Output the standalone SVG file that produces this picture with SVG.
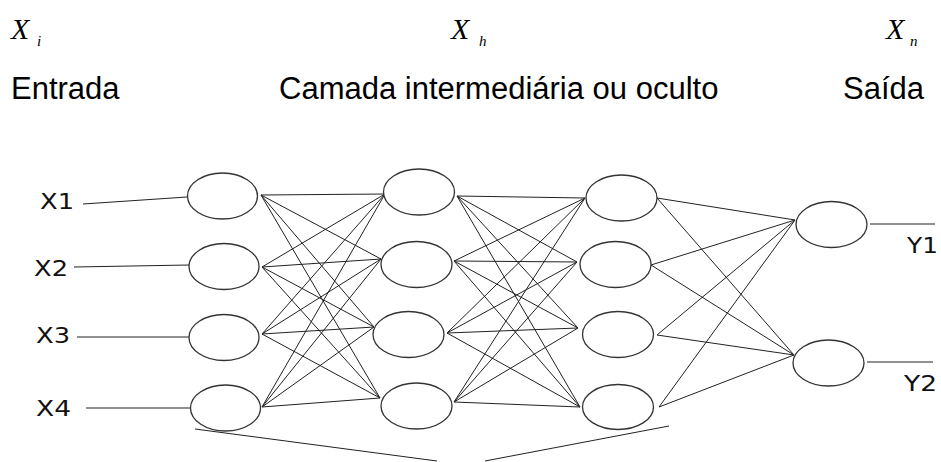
<svg xmlns="http://www.w3.org/2000/svg" width="941" height="462" viewBox="0 0 941 462">
<style>
.hd{font-family:"Liberation Sans",Arial,sans-serif;font-size:31px;fill:#000}
.mx{font-family:"Liberation Serif","Times New Roman",serif;font-style:italic;fill:#000}
.lb{font-family:"DejaVu Sans",Verdana,sans-serif;font-size:21px;fill:#111}
.nd{fill:#fff;stroke:#333;stroke-width:1.3}
.ln{stroke:#222;stroke-width:1;fill:none}
</style>
<rect width="941" height="462" fill="#fff"/>
<g id="headers">
<text class="mx" x="11" y="39" font-size="30">X</text><text class="mx" x="37" y="46" font-size="15">i</text>
<text class="mx" x="451" y="39" font-size="30">X</text><text class="mx" x="479" y="46" font-size="15">h</text>
<text class="mx" x="886" y="39" font-size="30">X</text><text class="mx" x="910" y="46" font-size="15">n</text>
<text class="hd" x="11" y="99">Entrada</text>
<text class="hd" x="279" y="99">Camada intermediária ou oculto</text>
<text class="hd" x="843" y="99">Saída</text>
</g>
<g id="connectors">
<line class="ln" x1="83" y1="204" x2="187" y2="197"/>
<line class="ln" x1="74" y1="267" x2="189" y2="265"/>
<line class="ln" x1="77" y1="337" x2="189" y2="337"/>
<line class="ln" x1="86" y1="408" x2="190" y2="408"/>
<line class="ln" x1="870" y1="224" x2="935" y2="224"/>
<line class="ln" x1="867" y1="362" x2="933" y2="362"/>
<line class="ln" x1="195" y1="429" x2="437" y2="461"/>
<line class="ln" x1="485" y1="461" x2="669" y2="426"/>
<g>
<line class="ln" x1="261" y1="195" x2="385" y2="194"/><line class="ln" x1="261" y1="195" x2="381" y2="259"/><line class="ln" x1="261" y1="195" x2="374" y2="327"/><line class="ln" x1="261" y1="195" x2="380" y2="398"/>
<line class="ln" x1="262" y1="267" x2="385" y2="194"/><line class="ln" x1="262" y1="267" x2="381" y2="259"/><line class="ln" x1="262" y1="267" x2="374" y2="327"/><line class="ln" x1="262" y1="267" x2="380" y2="398"/>
<line class="ln" x1="262" y1="334" x2="385" y2="194"/><line class="ln" x1="262" y1="334" x2="381" y2="259"/><line class="ln" x1="262" y1="334" x2="374" y2="327"/><line class="ln" x1="262" y1="334" x2="380" y2="398"/>
<line class="ln" x1="262" y1="407" x2="385" y2="194"/><line class="ln" x1="262" y1="407" x2="381" y2="259"/><line class="ln" x1="262" y1="407" x2="374" y2="327"/><line class="ln" x1="262" y1="407" x2="380" y2="398"/>
</g>
<g>
<line class="ln" x1="457" y1="196" x2="585" y2="198"/><line class="ln" x1="457" y1="196" x2="577" y2="262"/><line class="ln" x1="457" y1="196" x2="578" y2="328"/><line class="ln" x1="457" y1="196" x2="580" y2="407"/>
<line class="ln" x1="454" y1="261" x2="585" y2="198"/><line class="ln" x1="454" y1="261" x2="577" y2="262"/><line class="ln" x1="454" y1="261" x2="578" y2="328"/><line class="ln" x1="454" y1="261" x2="580" y2="407"/>
<line class="ln" x1="447" y1="333" x2="585" y2="198"/><line class="ln" x1="447" y1="333" x2="577" y2="262"/><line class="ln" x1="447" y1="333" x2="578" y2="328"/><line class="ln" x1="447" y1="333" x2="580" y2="407"/>
<line class="ln" x1="454" y1="402" x2="585" y2="198"/><line class="ln" x1="454" y1="402" x2="577" y2="262"/><line class="ln" x1="454" y1="402" x2="578" y2="328"/><line class="ln" x1="454" y1="402" x2="580" y2="407"/>
</g>
<g>
<line class="ln" x1="657" y1="198" x2="795" y2="220"/><line class="ln" x1="657" y1="198" x2="794" y2="355"/>
<line class="ln" x1="651" y1="265" x2="795" y2="220"/><line class="ln" x1="651" y1="265" x2="794" y2="355"/>
<line class="ln" x1="657" y1="335" x2="795" y2="220"/><line class="ln" x1="657" y1="335" x2="794" y2="355"/>
<line class="ln" x1="659" y1="407" x2="795" y2="220"/><line class="ln" x1="659" y1="407" x2="794" y2="355"/>
</g>
</g>
<g id="in1"><ellipse class="nd" cx="222.5" cy="196" rx="35" ry="23"/><text class="lb" x="40" y="209" textLength="34" lengthAdjust="spacingAndGlyphs">X1</text></g>
<g id="in2"><ellipse class="nd" cx="224" cy="266.5" rx="35" ry="23"/><text class="lb" x="34" y="276" textLength="34" lengthAdjust="spacingAndGlyphs">X2</text></g>
<g id="in3"><ellipse class="nd" cx="224" cy="337.5" rx="35" ry="23"/><text class="lb" x="36" y="343" textLength="34" lengthAdjust="spacingAndGlyphs">X3</text></g>
<g id="in4"><ellipse class="nd" cx="225.5" cy="408" rx="35" ry="23"/><text class="lb" x="36" y="416" textLength="35" lengthAdjust="spacingAndGlyphs">X4</text></g>
<g id="h1"><ellipse class="nd" cx="419" cy="192" rx="35.5" ry="23"/></g>
<g id="h2"><ellipse class="nd" cx="416.5" cy="264.5" rx="35.5" ry="23"/></g>
<g id="h3"><ellipse class="nd" cx="408.5" cy="334.5" rx="35.5" ry="23"/></g>
<g id="h4"><ellipse class="nd" cx="416.5" cy="406" rx="35.5" ry="23"/></g>
<g id="g1"><ellipse class="nd" cx="621.5" cy="198" rx="35.5" ry="23"/></g>
<g id="g2"><ellipse class="nd" cx="615.5" cy="264.5" rx="35.5" ry="23"/></g>
<g id="g3"><ellipse class="nd" cx="618" cy="334.5" rx="35.5" ry="23"/></g>
<g id="g4"><ellipse class="nd" cx="618" cy="407" rx="35.5" ry="22.5"/></g>
<g id="out1"><ellipse class="nd" cx="831.5" cy="224.5" rx="35.5" ry="23"/><text class="lb" x="907" y="253" textLength="31" lengthAdjust="spacingAndGlyphs">Y1</text></g>
<g id="out2"><ellipse class="nd" cx="828.5" cy="363" rx="35.5" ry="23"/><text class="lb" x="904" y="391" textLength="33" lengthAdjust="spacingAndGlyphs">Y2</text></g>
</svg>
